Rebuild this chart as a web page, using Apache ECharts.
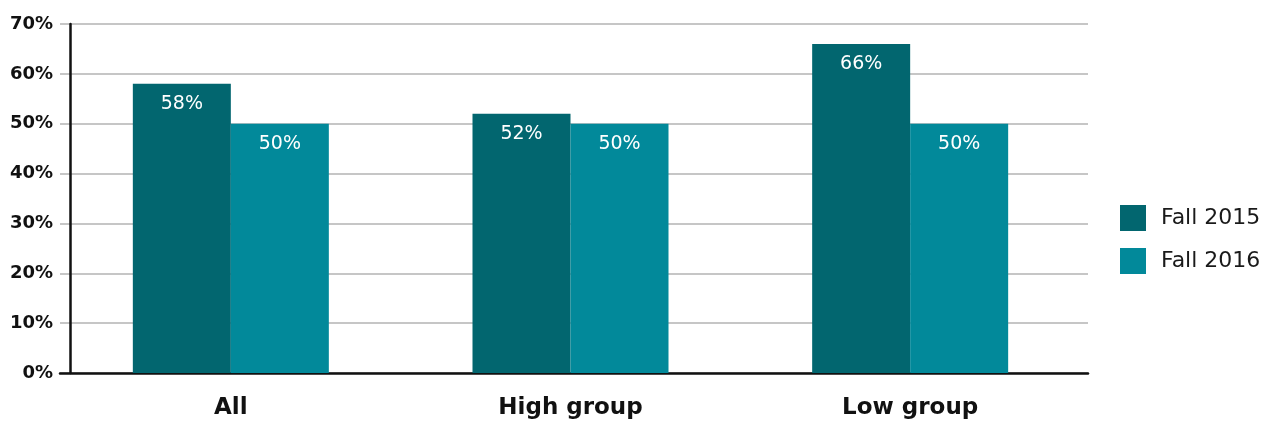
<!DOCTYPE html>
<html><head><meta charset="utf-8">
<script src="https://cdn.jsdelivr.net/npm/echarts@6/dist/echarts.min.js"></script>
<style>html,body{margin:0;padding:0;background:#fff}#c{width:1268px;height:423px}</style>
</head><body><div id="c"></div>
<script>
const categories = ['All', 'High group', 'Low group'];
const fall2015 = [58, 52, 66];
const fall2016 = [50, 50, 50];
const yTicks = [0, 10, 20, 30, 40, 50, 60, 70];

const FONT = 'DejaVu Sans';
const chart = echarts.init(document.getElementById('c'));
chart.setOption({
  animation: false,
  legend: {
    orient: 'vertical', left: 1115, top: 200, itemWidth: 26, itemHeight: 26, itemGap: 17,
    icon: 'rect',
    textStyle: { fontFamily: FONT, fontSize: 22, color: '#1a1a1a', padding: [0, 0, 0, 10] },
    data: ['Fall 2015', 'Fall 2016']
  },
  grid: [
    { left: 61, right: 188, top: 24, bottom: 50 },
    { left: 60, right: 180, top: 24, bottom: 50 }
  ],
  xAxis: [
    { type: 'category', gridIndex: 0, data: categories,
      axisLine: { show: false }, axisTick: { show: false },
      axisLabel: { fontFamily: FONT, fontWeight: 'bold', fontSize: 23, color: '#111', margin: 24 } },
    { type: 'value', gridIndex: 1, min: 0, max: 1, show: true,
      axisLine: { show: true, lineStyle: { color: '#111', width: 2.5 } },
      axisTick: { show: false }, axisLabel: { show: false }, splitLine: { show: false } }
  ],
  yAxis: [
    { type: 'value', gridIndex: 0, min: yTicks[0], max: yTicks[yTicks.length - 1], interval: 10,
      axisLine: { show: false }, axisTick: { show: false }, axisLabel: { show: false }, splitLine: { show: false } },
    { type: 'value', gridIndex: 1, min: yTicks[0], max: yTicks[yTicks.length - 1], interval: 10, offset: -10,
      axisLine: { show: true, onZero: false, lineStyle: { color: '#111', width: 2.5 } },
      axisTick: { show: false },
      axisLabel: { fontFamily: FONT, fontWeight: 'bold', fontSize: 18, color: '#111', margin: 17, formatter: '{value}%' },
      splitLine: { show: true, lineStyle: { color: '#b3b3b3', width: 1.5 } } }
  ],
  series: [
    { name: 'Fall 2015', type: 'bar', xAxisIndex: 0, yAxisIndex: 0, data: fall2015,
      barWidth: 98, barGap: '0%', itemStyle: { color: '#02666f' }, z: 3,
      label: { show: true, position: 'insideTop', distance: 11, color: '#fff', fontFamily: FONT, fontSize: 19, formatter: '{c}%' } },
    { name: 'Fall 2016', type: 'bar', xAxisIndex: 0, yAxisIndex: 0, data: fall2016,
      barWidth: 98, barGap: '0%', itemStyle: { color: '#02899a' }, z: 3,
      label: { show: true, position: 'insideTop', distance: 11, color: '#fff', fontFamily: FONT, fontSize: 19, formatter: '{c}%' } }
  ]
});
</script></body></html>
